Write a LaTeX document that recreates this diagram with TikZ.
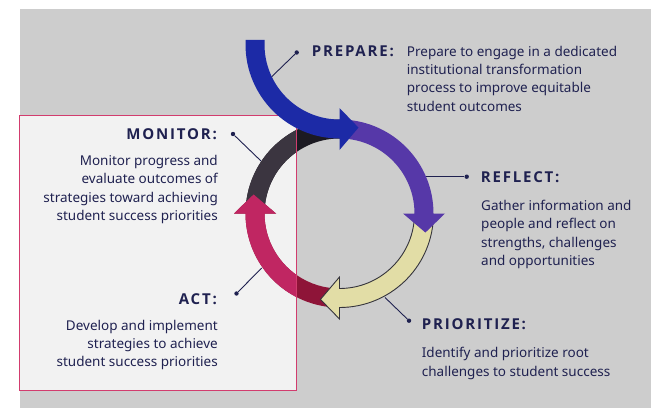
\documentclass[tikz,border=0pt]{standalone}
\usepackage{fontspec}
\setmainfont{Noto Sans}
\newfontfamily\headfont{Open Sans}[LetterSpace=12, BoldFont={Open Sans Bold}]
\definecolor{navy}{HTML}{1F2150}
\definecolor{panel}{HTML}{CDCDCD}
\definecolor{boxfill}{HTML}{F2F2F2}
\definecolor{boxline}{HTML}{D23C6E}
\definecolor{preparecol}{HTML}{1C2AA6}
\definecolor{reflectcol}{HTML}{5638A8}
\definecolor{prioritizecol}{HTML}{E2DDA6}
\definecolor{prioritizeline}{HTML}{35343C}
\definecolor{actout}{HTML}{8E1438}
\definecolor{actin}{HTML}{C02662}
\definecolor{monitorout}{HTML}{1C1A22}
\definecolor{monitorin}{HTML}{3B3540}
\begin{document}
\begin{tikzpicture}[x=1pt,y=1pt,
    heading/.style={inner sep=0pt, text=navy, font=\headfont\bfseries\fontsize{15}{18}\selectfont},
    body/.style={inner sep=0pt, text=navy, font=\fontsize{13.5}{18.2}\selectfont},
    leader/.style={draw=navy, line width=0.9pt},
    dot/.style={circle, fill=navy, inner sep=0pt, minimum size=4.4pt}]
    \useasboundingbox (0,0) rectangle (651,408);
    \fill[panel] (20,0) rectangle (651,399);
    \fill[boxfill] (19,17.3) rectangle (296.7,292.3);

    % ring, drawn clockwise from the top
    \coordinate (ring) at (339.5,194.5);
    \begin{scope}[shift={(ring)}]
        \fill[monitorout] (176:94) arc[start angle=176, end angle=89, radius=94] -- (89:75) arc[start angle=89, end angle=176, radius=75] -- cycle;
        \fill[actout] (-84:94) arc[start angle=-84, end angle=-180, radius=94] -- (-180:105.5) -- (-192.5:88) -- (-180:63.5) -- (-180:75) arc[start angle=-180, end angle=-84, radius=75] -- cycle;
        \filldraw[fill=prioritizecol, draw=prioritizeline, line width=0.9pt] (-3:94) arc[start angle=-3, end angle=-90, radius=94] -- (-90:105.5) -- (-102.5:88) -- (-90:63.5) -- (-90:75) arc[start angle=-90, end angle=-3, radius=75] -- cycle;
        \fill[reflectcol] (88:94) arc[start angle=88, end angle=0, radius=94] -- (0:105.5) -- (-12.5:88) -- (0:63.5) -- (0:75) arc[start angle=0, end angle=88, radius=75] -- cycle;
    \end{scope}
    \begin{scope}
        \clip (19,17.3) rectangle (296.7,292.3);
        \begin{scope}[shift={(ring)}]
            \fill[monitorin] (176:94) arc[start angle=176, end angle=89, radius=94] -- (89:75) arc[start angle=89, end angle=176, radius=75] -- cycle;
            \fill[actin] (-84:94) arc[start angle=-84, end angle=-180, radius=94] -- (-180:105.5) -- (-192.5:88) -- (-180:63.5) -- (-180:75) arc[start angle=-180, end angle=-84, radius=75] -- cycle;
        \end{scope}
    \end{scope}
    \draw[boxline, line width=1pt] (19,17.3) rectangle (296.7,292.3);

    % incoming arrow
    \coordinate (start) at (339.5,363.5);
    \begin{scope}[shift={(start)}]
        \fill[preparecol] (-94,4.5) -- (180:94) arc[start angle=180, end angle=270, radius=94] -- (0,-105.5) -- (19,-83.1) -- (0,-63.5) -- (0,-75) arc[start angle=270, end angle=180, radius=75] -- (-75,4.5) -- cycle;
    \end{scope}

    % leaders
    \node[dot] (preparedot) at (296.7,355.5) {};
    \coordinate (prepareend) at (271.7,331.3);
    \draw[leader] (preparedot) -- (prepareend);
    \node[dot] (monitordot) at (233,274) {};
    \coordinate (monitorend) at (261,247);
    \draw[leader] (monitordot) -- (monitorend);
    \node[dot] (reflectdot) at (466.7,231.3) {};
    \coordinate (reflectend) at (426,231.3);
    \draw[leader] (reflectdot) -- (reflectend);
    \node[dot] (actdot) at (236.5,114.5) {};
    \coordinate (actend) at (261.7,140);
    \draw[leader] (actdot) -- (actend);
    \node[dot] (prioritizedot) at (409,87.3) {};
    \coordinate (prioritizeend) at (385,110.5);
    \draw[leader] (prioritizedot) -- (prioritizeend);

    % labels (body texts sit on their last line)
    \node[heading, anchor=base west] (preparehead) at (311.7,352) {PREPARE:};
    \node[body, anchor=base west, align=left] (preparetext) at (406.7,297) {Prepare to engage in a dedicated\\institutional transformation\\process to improve equitable\\student outcomes};
    \node[heading, anchor=base east] (monitorhead) at (217,269) {MONITOR:};
    \node[body, anchor=base east, align=right] (monitortext) at (218,187.7) {Monitor progress and\\evaluate outcomes of\\strategies toward achieving\\student success priorities};
    \node[heading, anchor=base west] (reflecthead) at (480.7,225.7) {REFLECT:};
    \node[body, anchor=base west, align=left] (reflecttext) at (481,142.7) {Gather information and\\people and reflect on\\strengths, challenges\\and opportunities};
    \node[heading, anchor=base east] (acthead) at (217,103.7) {ACT:};
    \node[body, anchor=base east, align=right] (acttext) at (218,41.2) {Develop and implement\\strategies to achieve\\student success priorities};
    \node[heading, anchor=base west] (prioritizehead) at (421.7,78.7) {PRIORITIZE:};
    \node[body, anchor=base west, align=left] (prioritizetext) at (421.7,32) {Identify and prioritize root\\challenges to student success};
\end{tikzpicture}
\end{document}
